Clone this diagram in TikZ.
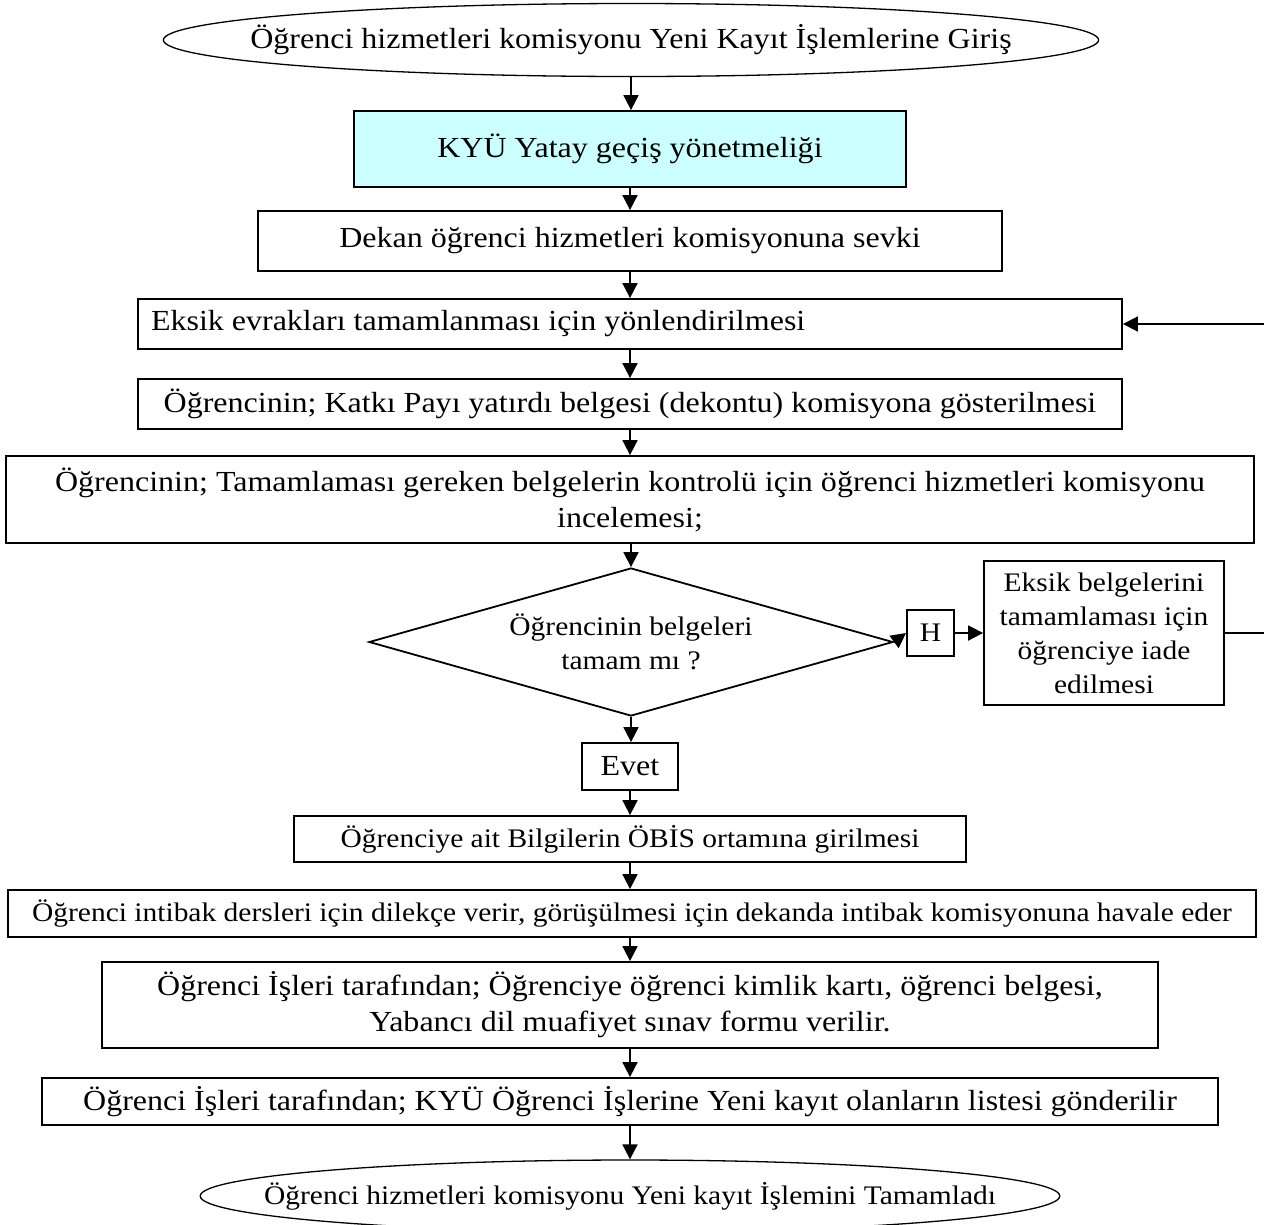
\documentclass[tikz,border=0pt]{standalone}
\usepackage{fontspec}
\setmainfont{Liberation Serif}[FakeStretch = 1.1]
\usetikzlibrary{positioning}
\usetikzlibrary{shapes.geometric}
\usetikzlibrary{arrows.meta}
\definecolor{kyucyan}{RGB}{204,255,255}

\begin{document}
\begin{tikzpicture}[x = 1pt, y = -1pt,
	box/.style = {draw = black, line width = 1.8pt, rectangle, inner sep = 0pt, align = center, font = \fontsize{29.1}{36}\selectfont},
	kucuk/.style = {font = \fontsize{26.8}{34}\selectfont},
	oval/.style = {draw = black, line width = 1.3pt, ellipse, inner ysep = 0pt, font = \fontsize{29.1}{36}\selectfont},
	karar/.style = {draw = black, line width = 1.8pt, diamond, aspect = 3.5, inner sep = 0pt, align = center, font = \fontsize{26.8}{34}\selectfont},
	arr/.style = {black, line width = 1.8pt, -{Triangle[length = 15pt, width = 15pt]}}]
	\useasboundingbox (0, 0) rectangle (1264, 1224);
	% akis kutulari
	\node [oval, inner xsep = -50pt, minimum height = 73pt] (giris) at (631, 40) {Öğrenci hizmetleri komisyonu Yeni Kayıt İşlemlerine Giriş};
	\node [box, fill = kyucyan, minimum width = 552pt, minimum height = 76pt] (yonetmelik) at (630, 149) {KYÜ Yatay geçiş yönetmeliği};
	\node [box, minimum width = 744pt, minimum height = 60pt] (sevk) at (630, 241) {Dekan öğrenci hizmetleri komisyonuna sevki};
	\node [box, text width = 958pt, inner xsep = 13pt, align = flush left, minimum height = 50pt] (evrak) at (630, 324) {Eksik evrakları tamamlanması için yönlendirilmesi};
	\node [box, minimum width = 984pt, minimum height = 50pt] (dekont) at (630, 404) {Öğrencinin; Katkı Payı yatırdı belgesi (dekontu) komisyona gösterilmesi};
	\node [box, minimum width = 1248pt, minimum height = 87pt] (inceleme) at (630, 499.5) {Öğrencinin; Tamamlaması gereken belgelerin kontrolü için öğrenci hizmetleri komisyonu\\ incelemesi;};
	\node [karar, minimum width = 524pt, minimum height = 148pt] (kontrol) at (631, 642) {Öğrencinin belgeleri\\ tamam mı ?};
	\node [box, kucuk, minimum width = 47pt, minimum height = 46pt] (hayir) at (930.5, 633) {H};
	\node [box, kucuk, minimum width = 240pt, minimum height = 144pt] (iade) at (1104, 633) {Eksik belgelerini\\ tamamlaması için\\ öğrenciye iade\\ edilmesi};
	\node [box, minimum width = 96pt, minimum height = 47pt] (evet) at (630, 766.5) {Evet};
	\node [box, kucuk, minimum width = 672pt, minimum height = 46pt] (obis) at (630, 839) {Öğrenciye ait Bilgilerin ÖBİS ortamına girilmesi};
	\node [box, kucuk, minimum width = 1248pt, minimum height = 47pt] (intibak) at (632, 913.5) {Öğrenci intibak dersleri için dilekçe verir, görüşülmesi için dekanda intibak komisyonuna havale eder};
	\node [box, minimum width = 1056pt, minimum height = 86pt] (kimlik) at (630, 1005) {Öğrenci İşleri tarafından; Öğrenciye öğrenci kimlik kartı, öğrenci belgesi,\\ Yabancı dil muafiyet sınav formu verilir.};
	\node [box, minimum width = 1176pt, minimum height = 47pt] (liste) at (630, 1101.5) {Öğrenci İşleri tarafından; KYÜ Öğrenci İşlerine Yeni kayıt olanların listesi gönderilir};
	\node [oval, kucuk, inner xsep = -62pt, minimum height = 72pt] (bitis) at (630, 1196) {Öğrenci hizmetleri komisyonu Yeni kayıt İşlemini Tamamladı};
	% baglantilar
	\draw [arr] (giris.south) -- (giris.south |- yonetmelik.north);
	\draw [arr] (yonetmelik.south) -- (yonetmelik.south |- sevk.north);
	\draw [arr] (sevk.south) -- (sevk.south |- evrak.north);
	\draw [arr] (evrak.south) -- (evrak.south |- dekont.north);
	\draw [arr] (dekont.south) -- (dekont.south |- inceleme.north);
	\draw [arr] (inceleme.south -| kontrol.north) -- (kontrol.north);
	\draw [arr] (kontrol.south) -- (kontrol.south |- evet.north);
	\draw [arr] (evet.south) -- (evet.south |- obis.north);
	\draw [arr] (obis.south) -- (obis.south |- intibak.north);
	\draw [arr] (intibak.south -| obis.south) -- (obis.south |- kimlik.north);
	\draw [arr] (kimlik.south) -- (kimlik.south |- liste.north);
	\draw [arr] (liste.south) -- (liste.south |- bitis.north);
	\draw [arr] (kontrol.east) -- (hayir.west);
	\draw [arr] (hayir.east) -- (iade.west);
	\coordinate (donus) at (1290, 633);
	\draw [arr] (iade.east) -- (donus) |- (evrak.east);
\end{tikzpicture}
\end{document}
